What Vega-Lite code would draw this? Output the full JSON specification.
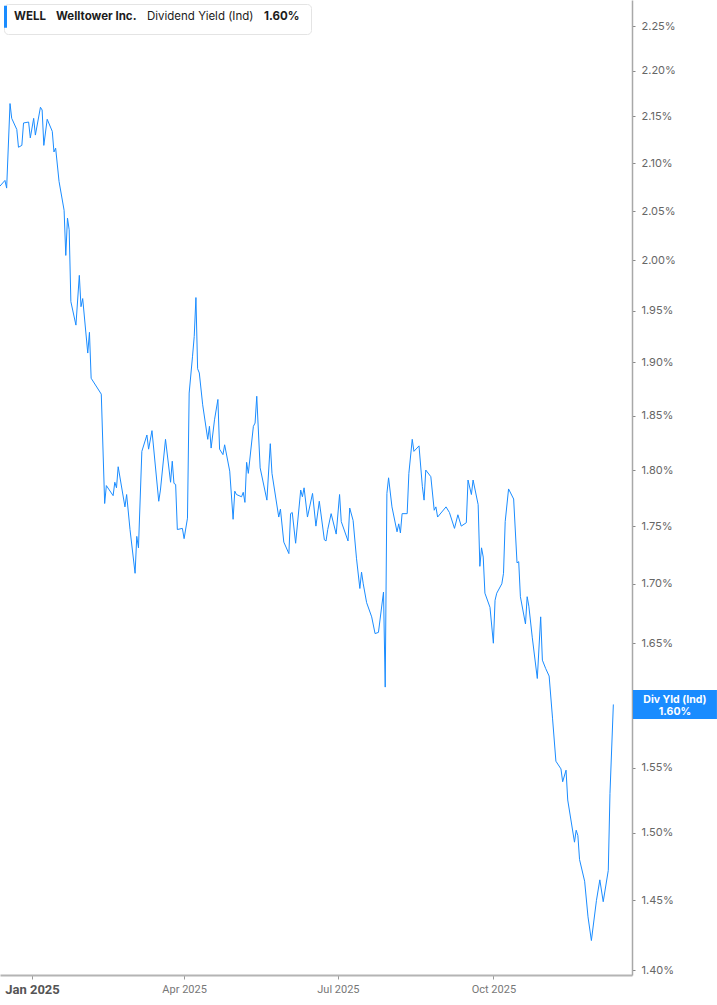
{
  "$schema": "https://vega.github.io/schema/vega-lite/v6.json",
  "width": 632,
  "height": 975,
  "autosize": "none",
  "padding": {"left": 0, "top": 0, "right": 85, "bottom": 30},
  "background": "#ffffff",
  "config": {"view": {"stroke": null}, "font": "Inter"},
  "layer": [
    {
      "data": {
        "values": [
          {"date": "2024-12-13", "yield": 2.076, "series": "WELL"},
          {"date": "2024-12-16", "yield": 2.082, "series": "WELL"},
          {"date": "2024-12-17", "yield": 2.074, "series": "WELL"},
          {"date": "2024-12-19", "yield": 2.164, "series": "WELL"},
          {"date": "2024-12-20", "yield": 2.148, "series": "WELL"},
          {"date": "2024-12-23", "yield": 2.136, "series": "WELL"},
          {"date": "2024-12-24", "yield": 2.117, "series": "WELL"},
          {"date": "2024-12-26", "yield": 2.119, "series": "WELL"},
          {"date": "2024-12-27", "yield": 2.143, "series": "WELL"},
          {"date": "2024-12-30", "yield": 2.144, "series": "WELL"},
          {"date": "2024-12-31", "yield": 2.127, "series": "WELL"},
          {"date": "2025-01-02", "yield": 2.148, "series": "WELL"},
          {"date": "2025-01-03", "yield": 2.130, "series": "WELL"},
          {"date": "2025-01-06", "yield": 2.160, "series": "WELL"},
          {"date": "2025-01-07", "yield": 2.157, "series": "WELL"},
          {"date": "2025-01-08", "yield": 2.119, "series": "WELL"},
          {"date": "2025-01-10", "yield": 2.147, "series": "WELL"},
          {"date": "2025-01-13", "yield": 2.134, "series": "WELL"},
          {"date": "2025-01-14", "yield": 2.112, "series": "WELL"},
          {"date": "2025-01-15", "yield": 2.116, "series": "WELL"},
          {"date": "2025-01-17", "yield": 2.081, "series": "WELL"},
          {"date": "2025-01-20", "yield": 2.051, "series": "WELL"},
          {"date": "2025-01-21", "yield": 2.005, "series": "WELL"},
          {"date": "2025-01-22", "yield": 2.043, "series": "WELL"},
          {"date": "2025-01-23", "yield": 2.031, "series": "WELL"},
          {"date": "2025-01-24", "yield": 1.959, "series": "WELL"},
          {"date": "2025-01-27", "yield": 1.936, "series": "WELL"},
          {"date": "2025-01-29", "yield": 1.985, "series": "WELL"},
          {"date": "2025-01-30", "yield": 1.954, "series": "WELL"},
          {"date": "2025-01-31", "yield": 1.962, "series": "WELL"},
          {"date": "2025-02-03", "yield": 1.909, "series": "WELL"},
          {"date": "2025-02-04", "yield": 1.929, "series": "WELL"},
          {"date": "2025-02-05", "yield": 1.885, "series": "WELL"},
          {"date": "2025-02-11", "yield": 1.870, "series": "WELL"},
          {"date": "2025-02-13", "yield": 1.770, "series": "WELL"},
          {"date": "2025-02-14", "yield": 1.786, "series": "WELL"},
          {"date": "2025-02-18", "yield": 1.777, "series": "WELL"},
          {"date": "2025-02-19", "yield": 1.789, "series": "WELL"},
          {"date": "2025-02-20", "yield": 1.784, "series": "WELL"},
          {"date": "2025-02-21", "yield": 1.803, "series": "WELL"},
          {"date": "2025-02-25", "yield": 1.767, "series": "WELL"},
          {"date": "2025-02-26", "yield": 1.778, "series": "WELL"},
          {"date": "2025-02-28", "yield": 1.747, "series": "WELL"},
          {"date": "2025-03-03", "yield": 1.709, "series": "WELL"},
          {"date": "2025-03-04", "yield": 1.741, "series": "WELL"},
          {"date": "2025-03-05", "yield": 1.731, "series": "WELL"},
          {"date": "2025-03-07", "yield": 1.817, "series": "WELL"},
          {"date": "2025-03-10", "yield": 1.832, "series": "WELL"},
          {"date": "2025-03-11", "yield": 1.819, "series": "WELL"},
          {"date": "2025-03-13", "yield": 1.836, "series": "WELL"},
          {"date": "2025-03-17", "yield": 1.772, "series": "WELL"},
          {"date": "2025-03-18", "yield": 1.782, "series": "WELL"},
          {"date": "2025-03-21", "yield": 1.828, "series": "WELL"},
          {"date": "2025-03-24", "yield": 1.789, "series": "WELL"},
          {"date": "2025-03-25", "yield": 1.808, "series": "WELL"},
          {"date": "2025-03-26", "yield": 1.788, "series": "WELL"},
          {"date": "2025-03-27", "yield": 1.787, "series": "WELL"},
          {"date": "2025-03-28", "yield": 1.747, "series": "WELL"},
          {"date": "2025-03-31", "yield": 1.748, "series": "WELL"},
          {"date": "2025-04-01", "yield": 1.739, "series": "WELL"},
          {"date": "2025-04-03", "yield": 1.757, "series": "WELL"},
          {"date": "2025-04-04", "yield": 1.871, "series": "WELL"},
          {"date": "2025-04-06", "yield": 1.906, "series": "WELL"},
          {"date": "2025-04-07", "yield": 1.925, "series": "WELL"},
          {"date": "2025-04-08", "yield": 1.963, "series": "WELL"},
          {"date": "2025-04-09", "yield": 1.894, "series": "WELL"},
          {"date": "2025-04-10", "yield": 1.890, "series": "WELL"},
          {"date": "2025-04-12", "yield": 1.860, "series": "WELL"},
          {"date": "2025-04-15", "yield": 1.828, "series": "WELL"},
          {"date": "2025-04-16", "yield": 1.840, "series": "WELL"},
          {"date": "2025-04-17", "yield": 1.820, "series": "WELL"},
          {"date": "2025-04-19", "yield": 1.846, "series": "WELL"},
          {"date": "2025-04-21", "yield": 1.865, "series": "WELL"},
          {"date": "2025-04-22", "yield": 1.819, "series": "WELL"},
          {"date": "2025-04-24", "yield": 1.814, "series": "WELL"},
          {"date": "2025-04-25", "yield": 1.823, "series": "WELL"},
          {"date": "2025-04-28", "yield": 1.799, "series": "WELL"},
          {"date": "2025-04-30", "yield": 1.756, "series": "WELL"},
          {"date": "2025-05-01", "yield": 1.781, "series": "WELL"},
          {"date": "2025-05-02", "yield": 1.778, "series": "WELL"},
          {"date": "2025-05-05", "yield": 1.776, "series": "WELL"},
          {"date": "2025-05-06", "yield": 1.780, "series": "WELL"},
          {"date": "2025-05-07", "yield": 1.771, "series": "WELL"},
          {"date": "2025-05-08", "yield": 1.807, "series": "WELL"},
          {"date": "2025-05-09", "yield": 1.797, "series": "WELL"},
          {"date": "2025-05-12", "yield": 1.840, "series": "WELL"},
          {"date": "2025-05-13", "yield": 1.843, "series": "WELL"},
          {"date": "2025-05-14", "yield": 1.868, "series": "WELL"},
          {"date": "2025-05-16", "yield": 1.802, "series": "WELL"},
          {"date": "2025-05-20", "yield": 1.773, "series": "WELL"},
          {"date": "2025-05-22", "yield": 1.824, "series": "WELL"},
          {"date": "2025-05-23", "yield": 1.797, "series": "WELL"},
          {"date": "2025-05-27", "yield": 1.758, "series": "WELL"},
          {"date": "2025-05-28", "yield": 1.765, "series": "WELL"},
          {"date": "2025-05-30", "yield": 1.736, "series": "WELL"},
          {"date": "2025-06-02", "yield": 1.726, "series": "WELL"},
          {"date": "2025-06-03", "yield": 1.761, "series": "WELL"},
          {"date": "2025-06-04", "yield": 1.762, "series": "WELL"},
          {"date": "2025-06-06", "yield": 1.735, "series": "WELL"},
          {"date": "2025-06-09", "yield": 1.782, "series": "WELL"},
          {"date": "2025-06-10", "yield": 1.776, "series": "WELL"},
          {"date": "2025-06-11", "yield": 1.784, "series": "WELL"},
          {"date": "2025-06-13", "yield": 1.758, "series": "WELL"},
          {"date": "2025-06-16", "yield": 1.779, "series": "WELL"},
          {"date": "2025-06-18", "yield": 1.750, "series": "WELL"},
          {"date": "2025-06-20", "yield": 1.772, "series": "WELL"},
          {"date": "2025-06-23", "yield": 1.738, "series": "WELL"},
          {"date": "2025-06-24", "yield": 1.737, "series": "WELL"},
          {"date": "2025-06-25", "yield": 1.747, "series": "WELL"},
          {"date": "2025-06-27", "yield": 1.761, "series": "WELL"},
          {"date": "2025-06-30", "yield": 1.743, "series": "WELL"},
          {"date": "2025-07-02", "yield": 1.778, "series": "WELL"},
          {"date": "2025-07-03", "yield": 1.754, "series": "WELL"},
          {"date": "2025-07-07", "yield": 1.737, "series": "WELL"},
          {"date": "2025-07-08", "yield": 1.766, "series": "WELL"},
          {"date": "2025-07-10", "yield": 1.755, "series": "WELL"},
          {"date": "2025-07-12", "yield": 1.722, "series": "WELL"},
          {"date": "2025-07-14", "yield": 1.696, "series": "WELL"},
          {"date": "2025-07-15", "yield": 1.710, "series": "WELL"},
          {"date": "2025-07-16", "yield": 1.700, "series": "WELL"},
          {"date": "2025-07-18", "yield": 1.684, "series": "WELL"},
          {"date": "2025-07-21", "yield": 1.672, "series": "WELL"},
          {"date": "2025-07-23", "yield": 1.658, "series": "WELL"},
          {"date": "2025-07-25", "yield": 1.659, "series": "WELL"},
          {"date": "2025-07-28", "yield": 1.693, "series": "WELL"},
          {"date": "2025-07-29", "yield": 1.614, "series": "WELL"},
          {"date": "2025-07-30", "yield": 1.779, "series": "WELL"},
          {"date": "2025-07-31", "yield": 1.793, "series": "WELL"},
          {"date": "2025-08-02", "yield": 1.767, "series": "WELL"},
          {"date": "2025-08-05", "yield": 1.745, "series": "WELL"},
          {"date": "2025-08-06", "yield": 1.752, "series": "WELL"},
          {"date": "2025-08-07", "yield": 1.744, "series": "WELL"},
          {"date": "2025-08-08", "yield": 1.761, "series": "WELL"},
          {"date": "2025-08-11", "yield": 1.761, "series": "WELL"},
          {"date": "2025-08-12", "yield": 1.797, "series": "WELL"},
          {"date": "2025-08-14", "yield": 1.828, "series": "WELL"},
          {"date": "2025-08-15", "yield": 1.817, "series": "WELL"},
          {"date": "2025-08-18", "yield": 1.822, "series": "WELL"},
          {"date": "2025-08-20", "yield": 1.785, "series": "WELL"},
          {"date": "2025-08-21", "yield": 1.773, "series": "WELL"},
          {"date": "2025-08-22", "yield": 1.800, "series": "WELL"},
          {"date": "2025-08-25", "yield": 1.794, "series": "WELL"},
          {"date": "2025-08-27", "yield": 1.764, "series": "WELL"},
          {"date": "2025-08-28", "yield": 1.767, "series": "WELL"},
          {"date": "2025-08-29", "yield": 1.758, "series": "WELL"},
          {"date": "2025-09-03", "yield": 1.767, "series": "WELL"},
          {"date": "2025-09-05", "yield": 1.762, "series": "WELL"},
          {"date": "2025-09-08", "yield": 1.748, "series": "WELL"},
          {"date": "2025-09-10", "yield": 1.760, "series": "WELL"},
          {"date": "2025-09-12", "yield": 1.750, "series": "WELL"},
          {"date": "2025-09-15", "yield": 1.753, "series": "WELL"},
          {"date": "2025-09-16", "yield": 1.791, "series": "WELL"},
          {"date": "2025-09-18", "yield": 1.778, "series": "WELL"},
          {"date": "2025-09-19", "yield": 1.791, "series": "WELL"},
          {"date": "2025-09-22", "yield": 1.769, "series": "WELL"},
          {"date": "2025-09-23", "yield": 1.715, "series": "WELL"},
          {"date": "2025-09-24", "yield": 1.731, "series": "WELL"},
          {"date": "2025-09-25", "yield": 1.723, "series": "WELL"},
          {"date": "2025-09-26", "yield": 1.692, "series": "WELL"},
          {"date": "2025-09-29", "yield": 1.680, "series": "WELL"},
          {"date": "2025-10-01", "yield": 1.650, "series": "WELL"},
          {"date": "2025-10-02", "yield": 1.686, "series": "WELL"},
          {"date": "2025-10-03", "yield": 1.692, "series": "WELL"},
          {"date": "2025-10-06", "yield": 1.700, "series": "WELL"},
          {"date": "2025-10-07", "yield": 1.709, "series": "WELL"},
          {"date": "2025-10-08", "yield": 1.754, "series": "WELL"},
          {"date": "2025-10-10", "yield": 1.783, "series": "WELL"},
          {"date": "2025-10-13", "yield": 1.774, "series": "WELL"},
          {"date": "2025-10-15", "yield": 1.718, "series": "WELL"},
          {"date": "2025-10-16", "yield": 1.719, "series": "WELL"},
          {"date": "2025-10-17", "yield": 1.689, "series": "WELL"},
          {"date": "2025-10-20", "yield": 1.666, "series": "WELL"},
          {"date": "2025-10-21", "yield": 1.689, "series": "WELL"},
          {"date": "2025-10-22", "yield": 1.681, "series": "WELL"},
          {"date": "2025-10-24", "yield": 1.655, "series": "WELL"},
          {"date": "2025-10-27", "yield": 1.621, "series": "WELL"},
          {"date": "2025-10-29", "yield": 1.672, "series": "WELL"},
          {"date": "2025-10-30", "yield": 1.636, "series": "WELL"},
          {"date": "2025-11-01", "yield": 1.629, "series": "WELL"},
          {"date": "2025-11-03", "yield": 1.623, "series": "WELL"},
          {"date": "2025-11-05", "yield": 1.589, "series": "WELL"},
          {"date": "2025-11-07", "yield": 1.555, "series": "WELL"},
          {"date": "2025-11-10", "yield": 1.549, "series": "WELL"},
          {"date": "2025-11-11", "yield": 1.539, "series": "WELL"},
          {"date": "2025-11-13", "yield": 1.548, "series": "WELL"},
          {"date": "2025-11-14", "yield": 1.525, "series": "WELL"},
          {"date": "2025-11-18", "yield": 1.493, "series": "WELL"},
          {"date": "2025-11-19", "yield": 1.502, "series": "WELL"},
          {"date": "2025-11-20", "yield": 1.498, "series": "WELL"},
          {"date": "2025-11-21", "yield": 1.480, "series": "WELL"},
          {"date": "2025-11-24", "yield": 1.464, "series": "WELL"},
          {"date": "2025-11-26", "yield": 1.438, "series": "WELL"},
          {"date": "2025-11-28", "yield": 1.421, "series": "WELL"},
          {"date": "2025-12-01", "yield": 1.450, "series": "WELL"},
          {"date": "2025-12-03", "yield": 1.465, "series": "WELL"},
          {"date": "2025-12-05", "yield": 1.449, "series": "WELL"},
          {"date": "2025-12-08", "yield": 1.472, "series": "WELL"},
          {"date": "2025-12-09", "yield": 1.530, "series": "WELL"},
          {"date": "2025-12-11", "yield": 1.600, "series": "WELL"}
        ]
      },
      "mark": {"type": "line", "strokeWidth": 1, "interpolate": "linear"},
      "encoding": {
        "x": {
          "field": "date",
          "type": "temporal",
          "scale": {
            "type": "utc",
            "domain": [
              {"year": 2024, "month": 12, "date": 13, "hours": 1, "minutes": 40, "utc": true},
              {"year": 2025, "month": 12, "date": 22, "hours": 0, "minutes": 45, "utc": true}
            ],
            "nice": false
          },
          "axis": {
            "title": null,
            "grid": false,
            "orient": "bottom",
            "values": [
              {"year": 2025, "month": 1, "date": 1, "utc": true},
              {"year": 2025, "month": 4, "date": 1, "utc": true},
              {"year": 2025, "month": 7, "date": 1, "utc": true},
              {"year": 2025, "month": 10, "date": 1, "utc": true}
            ],
            "labelExpr": "utcFormat(datum.value, '%b %Y')",
            "domainColor": "#b4b4b4",
            "domainWidth": 2,
            "tickColor": "#9a9a9a",
            "tickSize": 4,
            "tickWidth": 1,
            "labelPadding": 4,
            "labelFont": "Roboto",
            "labelFontSize": {"condition": {"test": "utcmonth(datum.value) === 0", "value": 13}, "value": 11},
            "labelFontWeight": {"condition": {"test": "utcmonth(datum.value) === 0", "value": "bold"}, "value": "normal"},
            "labelColor": {"condition": {"test": "utcmonth(datum.value) === 0", "value": "#555555"}, "value": "#777777"}
          }
        },
        "y": {
          "field": "yield",
          "type": "quantitative",
          "scale": {"type": "log", "domain": [1.3966, 2.2796], "nice": false, "zero": false},
          "axis": {
            "title": null,
            "grid": false,
            "orient": "right",
            "values": [1.40, 1.45, 1.50, 1.55, 1.60, 1.65, 1.70, 1.75, 1.80, 1.85, 1.90, 1.95, 2.00, 2.05, 2.10, 2.15, 2.20, 2.25],
            "labelExpr": "datum.value === 1.6 ? '' : format(datum.value, '.2f') + '%'",
            "domainColor": "#a8a8a8",
            "domainWidth": 1.5,
            "tickColor": "#888888",
            "tickSize": 3,
            "labelPadding": 6,
            "labelFont": "Inter",
            "labelFontSize": 11,
            "labelColor": "#666666"
          }
        },
        "color": {
          "field": "series",
          "type": "nominal",
          "scale": {
            "domain": ["WELL", "Welltower Inc.", "Dividend Yield (Ind)", "1.60%"],
            "range": ["#1a8cff", "rgba(0,0,0,0)", "rgba(0,0,0,0)", "rgba(0,0,0,0)"]
          },
          "legend": {
            "title": null,
            "orient": "top-left",
            "offset": 4,
            "direction": "horizontal",
            "columns": 4,
            "padding": 0,
            "columnPadding": -5,
            "symbolType": "M0,-1L0,1",
            "symbolSize": 484,
            "symbolStrokeWidth": 3,
            "symbolOffset": -11,
            "labelOffset": -4,
            "labelFont": "Inter",
            "labelFontSize": 11.5,
            "labelColor": "#1c1c1c",
            "labelFontWeight": {"expr": "datum.label === 'Dividend Yield (Ind)' ? 'normal' : 'bold'"},
            "labelExpr": "datum.label === '1.60%' ? '1.60%\u00a0\u00a0\u00a0\u00a0\u200b' : datum.label",
            "fillColor": "#ffffff",
            "strokeColor": "#e4e4e4",
            "cornerRadius": 4
          }
        }
      }
    },
    {
      "data": {"values": [{}]},
      "mark": {"type": "rect", "color": "#1a8cff"},
      "encoding": {
        "x": {"datum": {"year": 2025, "month": 12, "date": 22, "hours": 14, "utc": true}, "type": "temporal"},
        "x2": {"datum": {"year": 2026, "month": 2, "date": 10, "hours": 7, "utc": true}},
        "y": {"datum": 1.6117, "type": "quantitative"},
        "y2": {"datum": 1.5884}
      }
    },
    {
      "data": {"values": [{}]},
      "mark": {
        "type": "text",
        "color": "#ffffff",
        "font": "Inter",
        "fontSize": 10.5,
        "fontWeight": "bold",
        "align": "center",
        "baseline": "middle",
        "lineHeight": 11.5,
        "dy": -4
      },
      "encoding": {
        "x": {"datum": {"year": 2026, "month": 1, "date": 16, "hours": 11, "utc": true}, "type": "temporal"},
        "y": {"datum": 1.6, "type": "quantitative"},
        "text": {"value": ["Div Yld (Ind)", "1.60%"]}
      }
    }
  ]
}
